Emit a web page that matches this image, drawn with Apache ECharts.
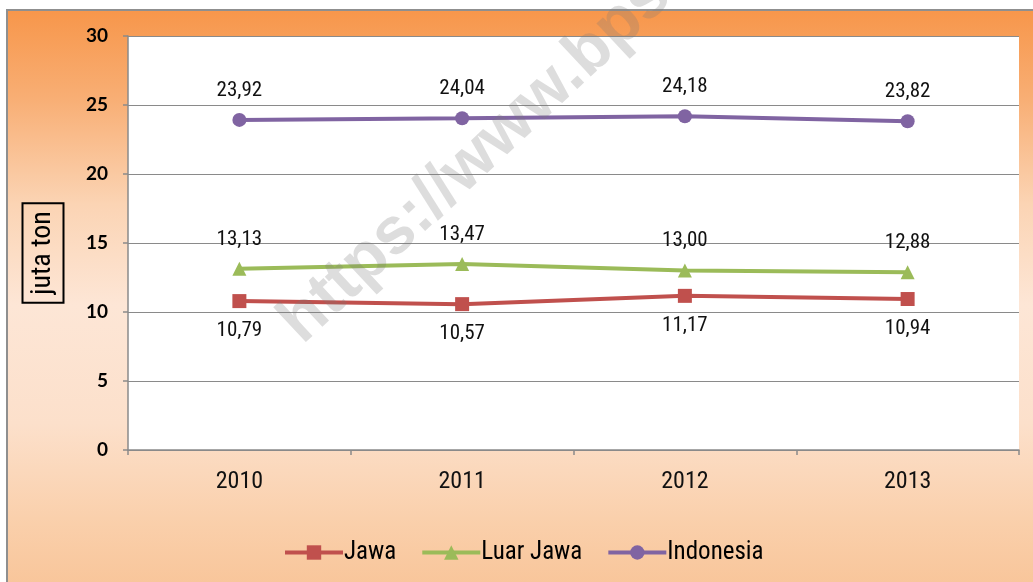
<!DOCTYPE html>
<html>
<head>
<meta charset="utf-8">
<script src="https://cdn.jsdelivr.net/npm/echarts@6/dist/echarts.min.js"></script>
<style>
html,body{margin:0;padding:0;background:#fff;}
#c{width:1033px;height:582px;}
</style>
</head>
<body>
<div id="c"></div>
<script>
const categories = ['2010', '2011', '2012', '2013'];
const jawa = [10.79, 10.57, 11.17, 10.94];
const luarJawa = [13.13, 13.47, 13.00, 12.88];
const indonesia = [23.92, 24.04, 24.18, 23.82];
const yTicks = [0, 5, 10, 15, 20, 25, 30];

const narrow = "'Liberation Sans Narrow', 'Arial Narrow', 'Roboto Condensed', 'DejaVu Sans Condensed', sans-serif";
const fmt = p => p.value.toFixed(2).replace('.', ',');

const chart = echarts.init(document.getElementById('c'), null, {renderer: 'canvas'});

function mkSeries(name, data, color, symbol, pos) {
  return {
    name, type: 'line', data,
    symbol, symbolSize: 14,
    lineStyle: {color, width: 4},
    itemStyle: {color},
    label: {
      show: true, position: pos, distance: 12,
      formatter: fmt,
      fontFamily: narrow, fontSize: 21, color: '#111'
    },
    z: 3
  };
}

chart.setOption({
  backgroundColor: '#ffffff',
  animation: false,
  graphic: [
    {
      type: 'rect', z: -10, silent: true,
      shape: {x: 7, y: 10, width: 1040, height: 590},
      style: {
        fill: new echarts.graphic.LinearGradient(0, 0, 0, 1, [
          {offset: 0, color: '#F7964A'},
          {offset: 0.15, color: '#F8AE74'},
          {offset: 0.33, color: '#FBD4B4'},
          {offset: 0.5, color: '#FDE6D6'},
          {offset: 0.7, color: '#FCE0CB'},
          {offset: 0.86, color: '#FAD0AC'},
          {offset: 1, color: '#F8C396'}
        ]),
        stroke: '#8f8f8f', lineWidth: 2
      }
    },
    {
      type: 'text', z: 50, silent: true,
      x: 43, y: 253, rotation: Math.PI / 2,
      style: {
        text: 'juta ton', font: "28px " + narrow, fill: '#000',
        textAlign: 'center', textVerticalAlign: 'middle',
        borderColor: '#000', borderWidth: 2, padding: [7, 8, 6, 8]
      }
    },
    {
      type: 'text', z: 100, silent: true,
      x: 290, y: 332, rotation: 43 * Math.PI / 180,
      style: {
        text: 'https://www.bps.go.id', font: "bold 66px 'Liberation Sans', Arial, sans-serif",
        fill: 'rgba(120,120,120,0.25)',
        textAlign: 'left', textVerticalAlign: 'middle'
      }
    }
  ],
  grid: {
    left: 128, right: 14, top: 36, bottom: 132,
    show: true, backgroundColor: '#ffffff', borderWidth: 0
  },
  legend: {
    left: 278, top: 535,
    itemWidth: 58, itemHeight: 18, itemGap: 24,
    lineStyle: {width: 4},
    textStyle: {fontFamily: narrow, fontSize: 25, color: '#000', padding: [0, 0, 0, -4]},
    data: ['Jawa', 'Luar Jawa', 'Indonesia']
  },
  xAxis: {
    type: 'category', data: categories, boundaryGap: true,
    axisLine: {lineStyle: {color: '#8a8a8a', width: 1.5}},
    axisTick: {show: true, length: 5, lineStyle: {color: '#8a8a8a', width: 1.5}},
    axisLabel: {fontFamily: narrow, fontSize: 24, color: '#111', margin: 20}
  },
  yAxis: {
    type: 'value', min: 0, max: 30, interval: 5,
    axisLine: {show: true, lineStyle: {color: '#8a8a8a', width: 1.5}},
    axisTick: {show: true, length: 5, lineStyle: {color: '#8a8a8a', width: 1.5}},
    splitLine: {lineStyle: {color: '#8a8a8a', width: 1.2}},
    axisLabel: {
      fontFamily: 'Lato, sans-serif', fontWeight: 'bold', fontSize: 19, color: '#000', margin: 20,
      formatter: v => yTicks.includes(v) ? String(v) : ''
    }
  },
  series: [
    mkSeries('Jawa', jawa, '#C0504D', 'rect', 'bottom'),
    mkSeries('Luar Jawa', luarJawa, '#9BBB59', 'triangle', 'top'),
    mkSeries('Indonesia', indonesia, '#8064A2', 'circle', 'top')
  ]
});
</script>
</body>
</html>
